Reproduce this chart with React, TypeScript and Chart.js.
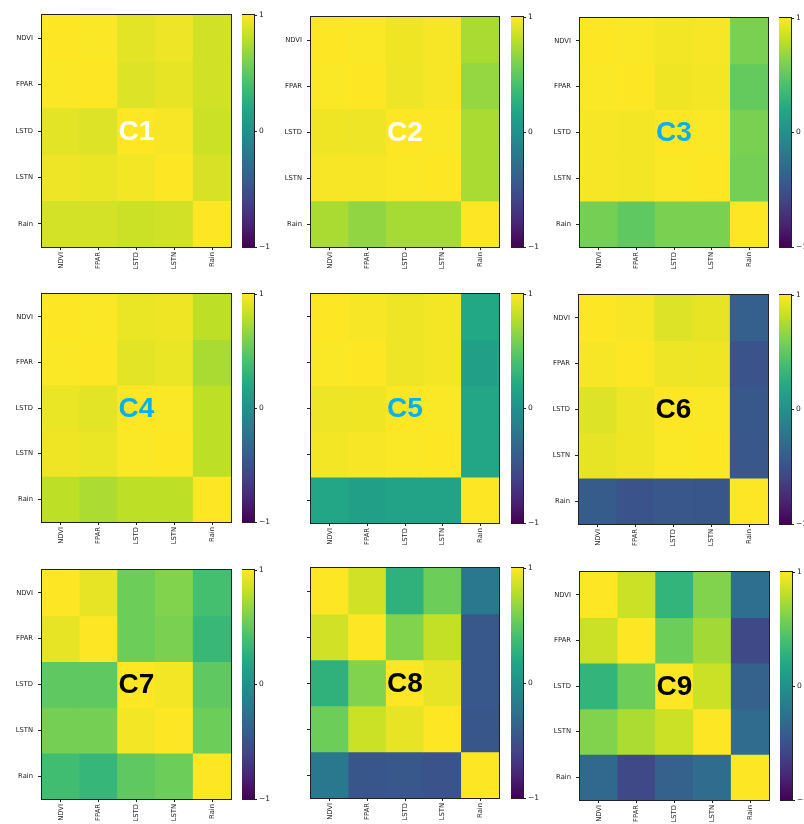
import React, { useEffect, useRef } from "react";
import { Chart, registerables } from "chart.js";
Chart.register(...registerables);

// ---------- data ----------
const variables = ["NDVI", "FPAR", "LSTD", "LSTN", "Rain"];
const colorbarTicks = [-1, 0, 1];
const panelNames = ["C1", "C2", "C3", "C4", "C5", "C6", "C7", "C8", "C9"];

const c1 = [
  [1.0, 0.99, 0.92, 0.95, 0.86],
  [0.99, 1.0, 0.9, 0.93, 0.86],
  [0.92, 0.9, 1.0, 0.98, 0.84],
  [0.95, 0.94, 0.97, 1.0, 0.88],
  [0.87, 0.87, 0.84, 0.86, 1.0],
];
const c2 = [
  [1.0, 0.99, 0.96, 0.98, 0.74],
  [0.99, 1.0, 0.95, 0.98, 0.68],
  [0.96, 0.95, 1.0, 0.99, 0.74],
  [0.98, 0.98, 0.99, 1.0, 0.74],
  [0.74, 0.67, 0.73, 0.73, 1.0],
];
const c3 = [
  [1.0, 0.99, 0.97, 0.98, 0.6],
  [0.99, 1.0, 0.96, 0.97, 0.52],
  [0.98, 0.97, 1.0, 0.99, 0.6],
  [0.98, 0.97, 0.99, 1.0, 0.58],
  [0.58, 0.5, 0.6, 0.6, 1.0],
];
const c4 = [
  [1.0, 0.99, 0.94, 0.96, 0.8],
  [0.99, 1.0, 0.92, 0.94, 0.74],
  [0.94, 0.92, 1.0, 0.99, 0.8],
  [0.96, 0.94, 0.99, 1.0, 0.8],
  [0.8, 0.75, 0.8, 0.8, 1.0],
];
const c5 = [
  [1.0, 0.98, 0.95, 0.97, 0.2],
  [0.99, 1.0, 0.95, 0.97, 0.12],
  [0.95, 0.96, 1.0, 0.99, 0.18],
  [0.97, 0.98, 0.99, 1.0, 0.18],
  [0.18, 0.12, 0.15, 0.15, 1.0],
];
const c6 = [
  [1.0, 0.98, 0.9, 0.93, -0.4],
  [0.98, 1.0, 0.95, 0.96, -0.48],
  [0.9, 0.95, 1.0, 0.99, -0.45],
  [0.93, 0.96, 0.99, 1.0, -0.46],
  [-0.42, -0.48, -0.46, -0.47, 1.0],
];
const c7 = [
  [1.0, 0.93, 0.55, 0.62, 0.4],
  [0.93, 1.0, 0.55, 0.6, 0.33],
  [0.5, 0.5, 1.0, 0.97, 0.5],
  [0.58, 0.58, 0.97, 1.0, 0.55],
  [0.38, 0.32, 0.5, 0.55, 1.0],
];
const c8 = [
  [1.0, 0.86, 0.28, 0.55, -0.2],
  [0.86, 1.0, 0.62, 0.82, -0.45],
  [0.28, 0.62, 1.0, 0.93, -0.45],
  [0.55, 0.84, 0.93, 1.0, -0.47],
  [-0.2, -0.47, -0.45, -0.48, 1.0],
];
const c9 = [
  [1.0, 0.84, 0.3, 0.62, -0.28],
  [0.84, 1.0, 0.55, 0.72, -0.56],
  [0.3, 0.55, 1.0, 0.84, -0.38],
  [0.62, 0.75, 0.84, 1.0, -0.3],
  [-0.33, -0.56, -0.38, -0.3, 1.0],
];
const panelMatrices = [c1, c2, c3, c4, c5, c6, c7, c8, c9];

// ---------- styling / layout ----------
const panelLayouts = [
  { px: 42, py: 15, pw: 189, ph: 232, cx: 242, yLabels: true, labelColor: "#ffffff" },
  { px: 311, py: 17, pw: 188, ph: 230, cx: 511, yLabels: true, labelColor: "#ffffff" },
  { px: 580, py: 18, pw: 188, ph: 229, cx: 779, yLabels: true, labelColor: "#00B0F0" },
  { px: 42, py: 294, pw: 189, ph: 228, cx: 242, yLabels: true, labelColor: "#00B0F0" },
  { px: 311, py: 294, pw: 188, ph: 229, cx: 511, yLabels: false, labelColor: "#00B0F0" },
  { px: 579, py: 295, pw: 189, ph: 229, cx: 779, yLabels: true, labelColor: "#000000" },
  { px: 42, py: 570, pw: 189, ph: 229, cx: 242, yLabels: true, labelColor: "#000000" },
  { px: 311, py: 568, pw: 188, ph: 230, cx: 511, yLabels: false, labelColor: "#000000" },
  { px: 580, py: 572, pw: 189, ph: 228, cx: 780, yLabels: true, labelColor: "#000000" },
];
const CB_W = 12;
const AXIS_COLOR = "#222222";
const TICK_FONT = { family: "'DejaVu Sans', sans-serif", size: 6.8 };

const VIRIDIS = [
  "#440154", "#482475", "#414487", "#355f8d", "#2a788e", "#21918c",
  "#22a884", "#44bf70", "#7ad151", "#bddf26", "#fde725",
];

function hexToRgb(h: string) {
  return [parseInt(h.slice(1, 3), 16), parseInt(h.slice(3, 5), 16), parseInt(h.slice(5, 7), 16)];
}
function viridis(v: number) {
  const t = Math.min(1, Math.max(0, (v + 1) / 2));
  const s = t * 10;
  const i = Math.min(9, Math.floor(s));
  const f = s - i;
  const a = hexToRgb(VIRIDIS[i]);
  const b = hexToRgb(VIRIDIS[i + 1]);
  const c = a.map((x, k) => Math.round(x + (b[k] - x) * f));
  return `rgb(${c[0]},${c[1]},${c[2]})`;
}

const framePlugin = {
  id: "frame",
  afterDraw(chart: any) {
    const { ctx, chartArea: a } = chart;
    ctx.save();
    ctx.strokeStyle = AXIS_COLOR;
    ctx.lineWidth = 1;
    ctx.strokeRect(Math.round(a.left) - 0.5, Math.round(a.top) - 0.5, Math.round(a.right - a.left) + 1, Math.round(a.bottom - a.top) + 1);
    ctx.restore();
  },
};

function makeLabelPlugin(text: string, color: string) {
  return {
    id: "panelLabel",
    afterDatasetsDraw(chart: any) {
      const { ctx, chartArea: a } = chart;
      ctx.save();
      ctx.font = "bold 28px 'Liberation Sans', Arial, sans-serif";
      ctx.fillStyle = color;
      ctx.textAlign = "center";
      ctx.textBaseline = "middle";
      ctx.fillText(text, (a.left + a.right) / 2, (a.top + a.bottom) / 2 + 1);
      ctx.restore();
    },
  };
}

const LEFT = 42, TOP = 4, RIGHT = 2, BOTTOM = 46;

function zeroPad(s: any) {
  s.paddingTop = 0;
  s.paddingBottom = 0;
  s.paddingLeft = 0;
  s.paddingRight = 0;
}

function Heatmap({ name, matrix, layout }: any) {
  const ref = useRef<HTMLCanvasElement>(null);
  useEffect(() => {
    const chart = new Chart(ref.current as HTMLCanvasElement, {
      type: "bar",
      data: {
        labels: variables,
        datasets: matrix.map((row: number[], r: number) => ({
          label: variables[r],
          data: row.map(() => [r, r + 1]),
          backgroundColor: row.map((v) => viridis(v)),
          borderWidth: 0,
          barPercentage: 1,
          categoryPercentage: 1,
          grouped: false,
        })),
      },
      options: {
        responsive: false,
        animation: false,
        events: [],
        layout: { padding: { left: 0, top: TOP, right: RIGHT, bottom: 0 } },
        plugins: { legend: { display: false }, tooltip: { enabled: false } },
        scales: {
          x: {
            type: "category",
            offset: true,
            grid: { offset: false, drawOnChartArea: false, drawTicks: true, tickLength: 3, color: AXIS_COLOR },
            border: { display: true, color: AXIS_COLOR },
            ticks: { minRotation: 90, maxRotation: 90, autoSkip: false, padding: 2, color: AXIS_COLOR, font: TICK_FONT },
            afterFit: (s: any) => { s.height = BOTTOM; zeroPad(s); },
          },
          y: {
            type: "linear",
            min: 0,
            max: 5,
            reverse: true,
            afterBuildTicks: (s: any) => { s.ticks = variables.map((_, i) => ({ value: i + 0.5 })); },
            ticks: { callback: (_v: any, i: number) => (layout.yLabels ? variables[i] : ""), padding: 5, color: AXIS_COLOR, font: TICK_FONT },
            grid: { drawOnChartArea: false, drawTicks: true, tickLength: 4, color: AXIS_COLOR },
            border: { display: true, color: AXIS_COLOR },
            afterFit: (s: any) => { s.width = LEFT; zeroPad(s); },
          },
        },
      } as any,
      plugins: [framePlugin, makeLabelPlugin(name, layout.labelColor)],
    });
    return () => chart.destroy();
  }, [name, matrix, layout]);
  return (
    <canvas
      ref={ref}
      width={layout.pw + LEFT + RIGHT}
      height={layout.ph + TOP + BOTTOM}
      style={{ position: "absolute", left: layout.px - LEFT, top: layout.py - TOP }}
    />
  );
}

const CB_PAD = 6, CB_AXIS = 24;

function Colorbar({ layout }: any) {
  const ref = useRef<HTMLCanvasElement>(null);
  useEffect(() => {
    const chart = new Chart(ref.current as HTMLCanvasElement, {
      type: "bar",
      data: {
        labels: [""],
        datasets: [
          {
            data: [[colorbarTicks[0], colorbarTicks[colorbarTicks.length - 1]]],
            backgroundColor: (c: any) => {
              const a = c.chart.chartArea;
              if (!a) return VIRIDIS[5];
              const g = c.chart.ctx.createLinearGradient(0, a.bottom, 0, a.top);
              VIRIDIS.forEach((col, i) => g.addColorStop(i / (VIRIDIS.length - 1), col));
              return g;
            },
            borderWidth: 0,
            barPercentage: 1,
            categoryPercentage: 1,
          },
        ],
      },
      options: {
        responsive: false,
        animation: false,
        events: [],
        layout: { padding: { left: 0, top: CB_PAD, right: 0, bottom: CB_PAD } },
        plugins: { legend: { display: false }, tooltip: { enabled: false } },
        scales: {
          x: { display: false, offset: true },
          y: {
            type: "linear",
            position: "right",
            min: colorbarTicks[0],
            max: colorbarTicks[colorbarTicks.length - 1],
            afterBuildTicks: (s: any) => { s.ticks = colorbarTicks.map((v) => ({ value: v })); },
            ticks: {
              callback: (v: any) => (v < 0 ? "\u2212" + Math.abs(v) : String(v)),
              padding: 2,
              color: AXIS_COLOR,
              font: { family: "'DejaVu Sans', sans-serif", size: 7.5 },
            },
            grid: { drawOnChartArea: false, drawTicks: true, tickLength: 3, color: AXIS_COLOR },
            border: { display: true, color: AXIS_COLOR },
            afterFit: (s: any) => { s.width = CB_AXIS; zeroPad(s); },
          },
        },
      } as any,
      plugins: [framePlugin],
    });
    return () => chart.destroy();
  }, [layout]);
  return (
    <canvas
      ref={ref}
      width={CB_W + CB_AXIS}
      height={layout.ph + 2 * CB_PAD}
      style={{ position: "absolute", left: layout.cx, top: layout.py - CB_PAD }}
    />
  );
}

export default function App() {
  return (
    <div
      style={{
        position: "absolute",
        left: 0,
        top: 0,
        width: 804,
        height: 824,
        overflow: "hidden",
        background: "#ffffff",
      }}
    >
      {panelNames.map((name, i) => (
        <React.Fragment key={name}>
          <Heatmap name={name} matrix={panelMatrices[i]} layout={panelLayouts[i]} />
          <Colorbar layout={panelLayouts[i]} />
        </React.Fragment>
      ))}
    </div>
  );
}
